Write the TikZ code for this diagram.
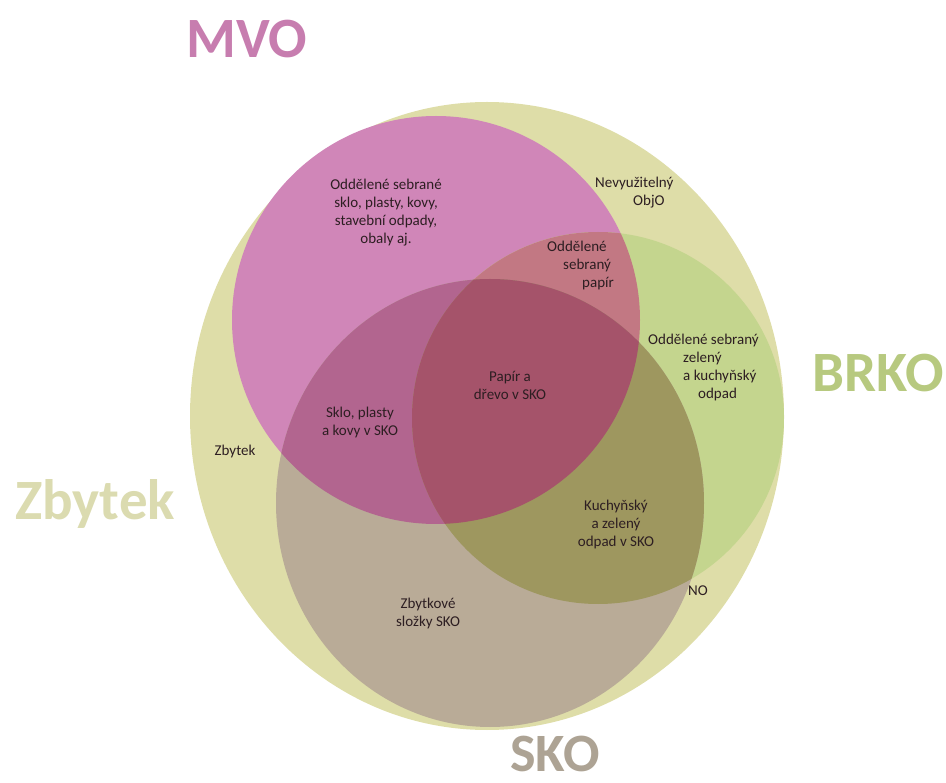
\documentclass[tikz,border=0pt]{standalone}
\usepackage{fontspec}
\setmainfont{Carlito}
\definecolor{cbeige}{RGB}{222,221,168}
\definecolor{cpink}{RGB}{208,134,184}
\definecolor{cgreen}{RGB}{196,213,142}
\definecolor{ctan}{RGB}{185,171,151}
\definecolor{cps}{RGB}{178,101,143}
\definecolor{cpg}{RGB}{194,120,131}
\definecolor{cgs}{RGB}{158,151,95}
\definecolor{cpgs}{RGB}{165,83,106}
\definecolor{ctxt}{RGB}{45,30,34}
\definecolor{tmvo}{RGB}{199,125,175}
\definecolor{tbrko}{RGB}{183,201,127}
\definecolor{tzb}{RGB}{219,219,176}
\definecolor{tsko}{RGB}{173,163,148}
\begin{document}
\begin{tikzpicture}[x=1pt,y=-1pt,
  lab/.style={inner sep=0pt, text=ctxt, font=\fontsize{15}{18}\selectfont, align=center},
  labl/.style={lab, align=left, anchor=west},
  big/.style={inner sep=0pt, font=\fontsize{57}{60}\selectfont\bfseries, anchor=base}]
\useasboundingbox (0,0) rectangle (946,783);
\def\pMVO{(436,320) circle [radius=204pt]}
\def\pBRKO{(598,418) circle [radius=186pt]}
\def\pSKO{(490,503) ellipse [x radius=214pt, y radius=224pt]}
% outer set
\fill[cbeige] (487,416) ellipse [x radius=297pt, y radius=314pt];
% base sets
\fill[cpink] \pMVO;
\fill[cgreen] \pBRKO;
\fill[ctan] \pSKO;
% pairwise intersections
\begin{scope}
  \clip \pMVO;
  \fill[cpg] \pBRKO;
  \fill[cps] \pSKO;
\end{scope}
\begin{scope}
  \clip \pBRKO;
  \fill[cgs] \pSKO;
\end{scope}
% triple intersection
\begin{scope}
  \clip \pMVO;
  \clip \pBRKO;
  \fill[cpgs] \pSKO;
\end{scope}
% region labels
\node[lab] (mvoonly) at (386,213) {Oddělené sebrané\\sklo, plasty, kovy,\\stavební odpady,\\obaly aj.};
\node[labl] (objo) at (595,193) {Nevyužitelný\\\hspace*{38pt}ObjO};
\node[labl] (papir) at (547,266) {Oddělené\\\hspace*{16pt}sebraný\\\hspace*{35pt}papír};
\node[labl] (zeleny) at (648,368) {Oddělené sebraný\\\hspace*{35pt}zelený\\\hspace*{35pt}a kuchyňský\\\hspace*{50pt}odpad};
\node[lab] (drevo) at (510,385) {Papír a\\dřevo v SKO};
\node[lab] (sklo) at (360,423) {Sklo, plasty\\a kovy v SKO};
\node[lab] (zbsmall) at (235,452) {Zbytek};
\node[lab] (kuch) at (616,525) {Kuchyňský\\a zelený\\odpad v SKO};
\node[lab] (no) at (698,591) {NO};
\node[lab] (zbsko) at (428,614) {Zbytkové\\složky SKO};
% set titles
\node[big, text=tmvo] (tMVO) at (247,58) {MVO};
\node[big, text=tbrko] (tBRKO) at (878,392) {BRKO};
\node[big, text=tzb] (tZB) at (95,520) {Zbytek};
\node[big, text=tsko, font=\fontsize{54}{58}\selectfont\bfseries] (tSKO) at (555,771) {SKO};
\end{tikzpicture}
\end{document}
